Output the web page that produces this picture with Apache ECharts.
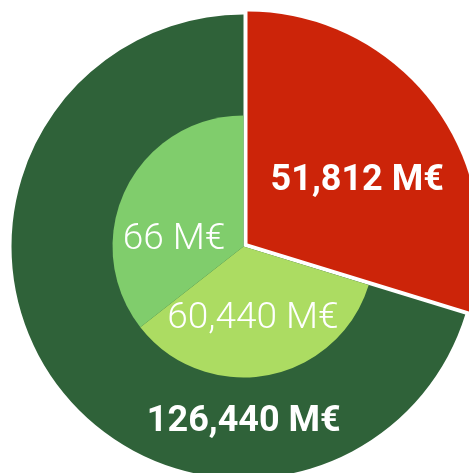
<!DOCTYPE html>
<html>
<head>
<meta charset="utf-8">
<script src="https://cdn.jsdelivr.net/npm/echarts@6/dist/echarts.min.js"></script>
<style>
html,body{margin:0;padding:0;background:#fff;}
#chart{width:469px;height:473px;}
</style>
</head>
<body>
<div id="chart"></div>
<script>
// Outer ring: total split
const outerNames = ['Red', 'Green'];
const outerValues = [51812, 122390];
const outerLabels = ['51,812 M€', '126,440 M€'];
// Inner pie: breakdown of the green part
const innerNames = ['Light', 'Medium'];
const innerValues = [60440, 61950];
const innerLabels = ['60,440 M€', '66 M€'];

const outerColors = ['#CC2409', '#2F6239'];
const innerColors = ['#ACDC62', '#80CD6C'];
const outerOffsets = [[14, 8], [96, 105]];
const innerOffsets = [[-3, 5], [-8, 23]];

const FONT = 'Roboto, "Noto Sans", sans-serif';

const chart = echarts.init(document.getElementById('chart'), null, {renderer: 'canvas'});

const outerData = outerValues.map((v, i) => ({
  name: outerNames[i],
  value: v,
  selected: i === 0,
  itemStyle: {color: outerColors[i]},
  label: {
    formatter: outerLabels[i],
    offset: outerOffsets[i]
  },
  select: {
    itemStyle: {color: outerColors[i]},
    label: {
      formatter: outerLabels[i],
      offset: outerOffsets[i],
      color: '#fff'
    }
  }
}));

const innerData = [{
  name: 'gap',
  value: outerValues[0],
  itemStyle: {color: 'rgba(0,0,0,0)'},
  label: {show: false}
}].concat(innerValues.map((v, i) => ({
  name: innerNames[i],
  value: v,
  itemStyle: {color: innerColors[i]},
  label: {
    formatter: innerLabels[i],
    offset: innerOffsets[i]
  }
})));

chart.setOption({
  animation: false,
  series: [
    {
      type: 'pie',
      center: [243.5, 246.5],
      radius: [0, 232],
      startAngle: 90,
      clockwise: true,
      silent: true,
      selectedMode: 'single',
      selectedOffset: 5,
      avoidLabelOverlap: false,
      itemStyle: {borderWidth: 0},
      label: {
        show: true,
        position: 'inside',
        color: '#fff',
        fontFamily: FONT,
        fontWeight: 'bold',
        fontSize: 36
      },
      labelLine: {show: false},
      emphasis: {disabled: true},
      data: outerData,
      z: 1
    },
    {
      type: 'pie',
      center: [243.5, 246.5],
      radius: [0, 131],
      startAngle: 90,
      clockwise: true,
      silent: true,
      avoidLabelOverlap: false,
      itemStyle: {borderWidth: 0},
      label: {
        show: true,
        position: 'inside',
        color: '#fff',
        fontFamily: FONT,
        fontWeight: 300,
        fontSize: 37
      },
      labelLine: {show: false},
      emphasis: {disabled: true},
      data: innerData,
      z: 2
    }
  ]
});
</script>
</body>
</html>
